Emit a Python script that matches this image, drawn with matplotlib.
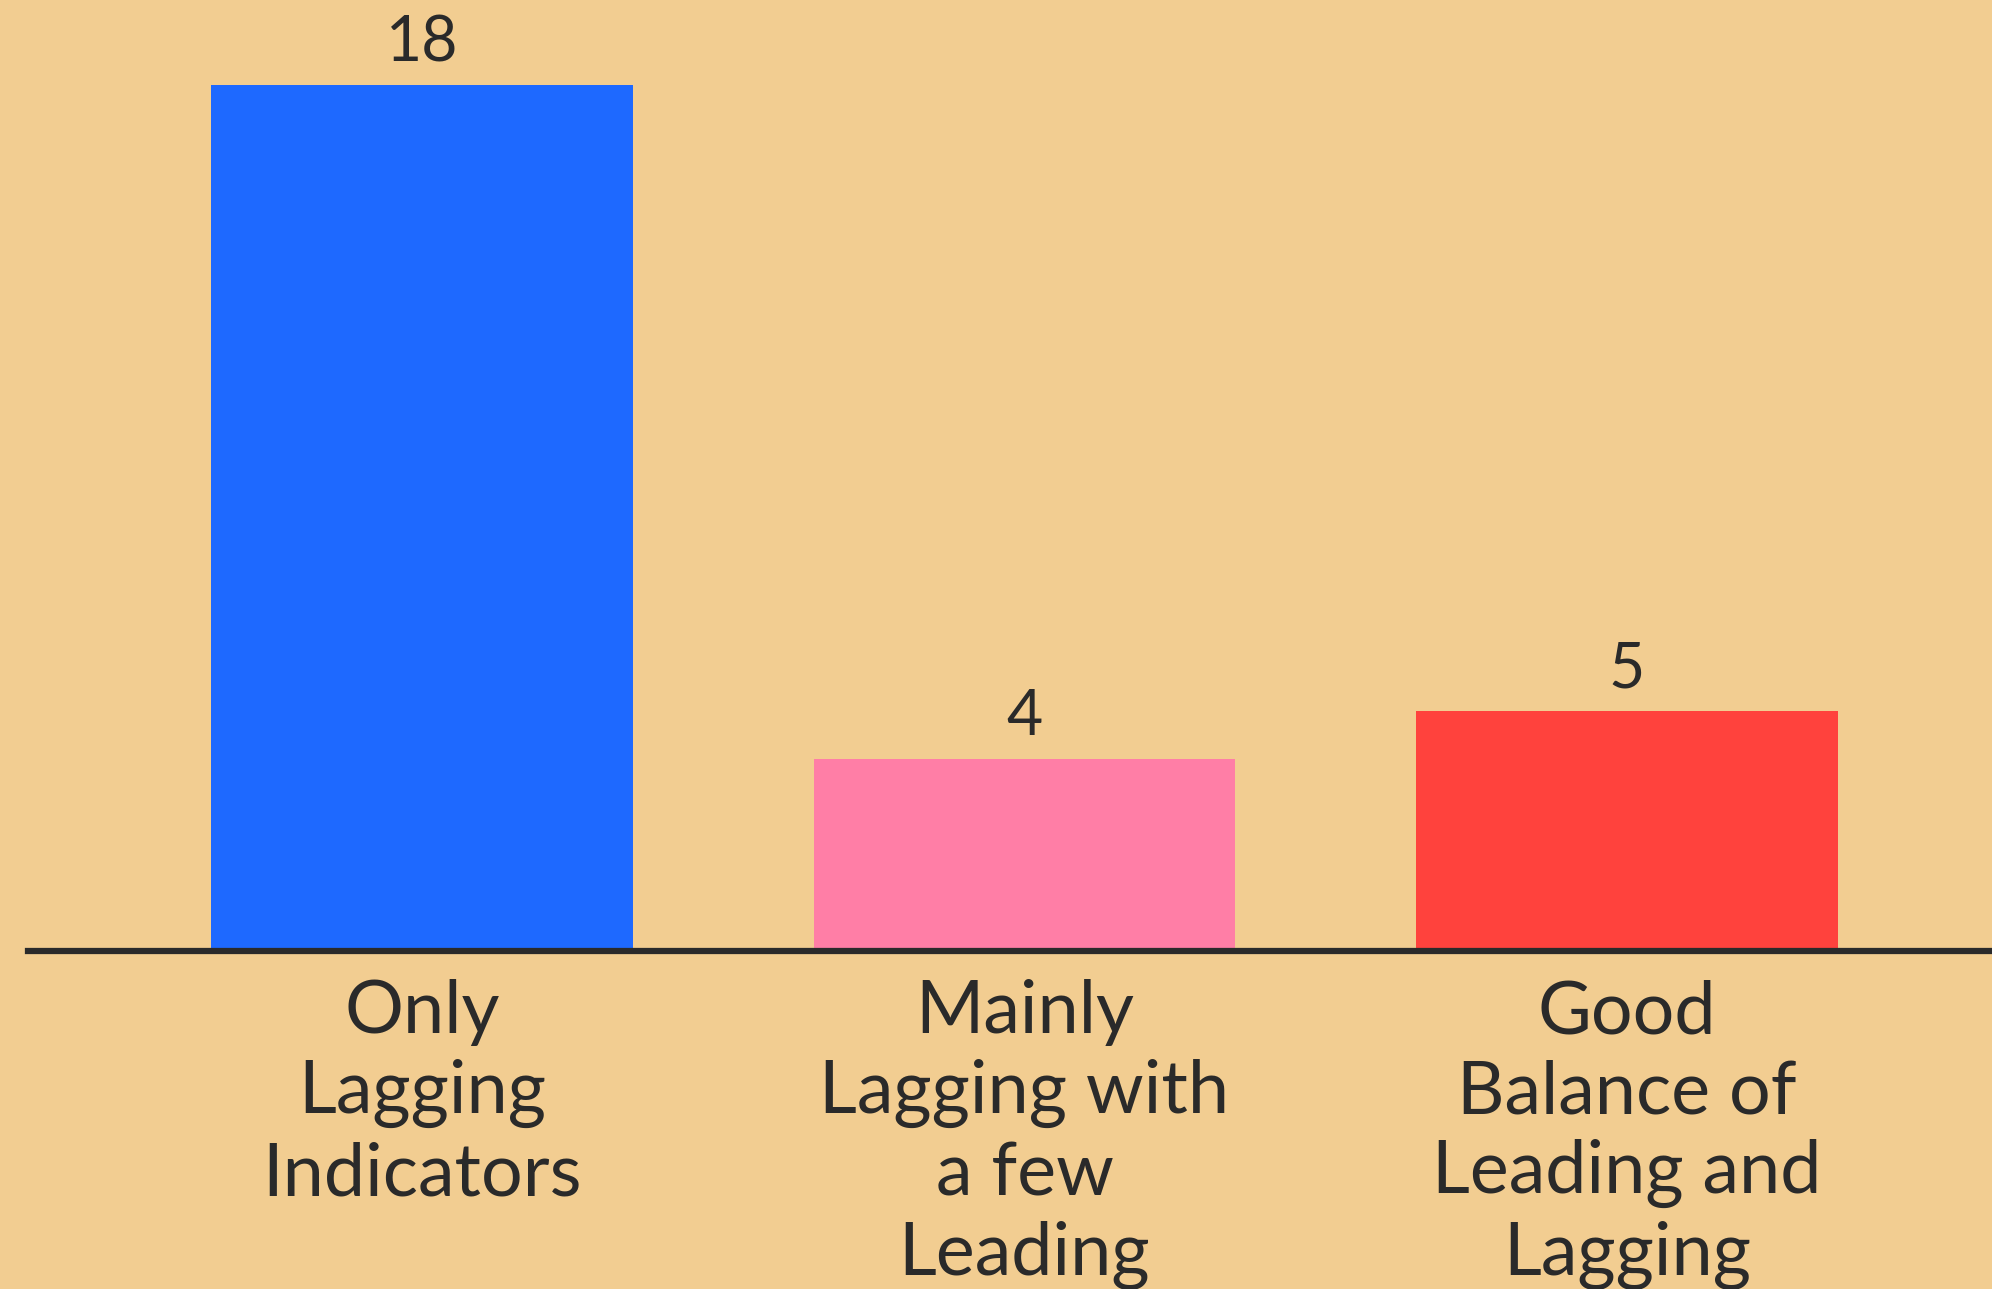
import matplotlib.pyplot as plt

# indicator mix counts
categories = ["Only\nLagging\nIndicators",
              "Mainly\nLagging with\na few\nLeading",
              "Good\nBalance of\nLeading and\nLagging"]
counts = [18, 4, 5]
colors = ["#1E69FF", "#FF7EA6", "#FF423D"]

bg = "#F2CD91"
ink = "#2A2A2A"

plt.rcParams['font.family'] = ['Lato', 'DejaVu Sans']

fig = plt.figure(figsize=(19.92, 12.89), dpi=100, facecolor=bg)
ax = fig.add_axes([0.0141, 0.262, 0.9859, 0.738])
ax.set_facecolor(bg)

x = range(len(counts))
bars = ax.bar(x, counts, width=0.70, color=colors, zorder=2)

for b, v in zip(bars, counts):
    ax.annotate(str(v), (b.get_x() + b.get_width() / 2, v),
                xytext=(0, 17), textcoords="offset points",
                ha="center", va="baseline", fontsize=45, color=ink)

ax.set_xlim(-0.654, 2.606)
ax.set_ylim(0, 19.77)
ax.set_xticks(list(x))
ax.set_xticklabels(categories, fontsize=53, color=ink, linespacing=1.24)
ax.tick_params(axis="x", length=0, pad=20)
ax.set_yticks([])

for s in ["top", "right", "left"]:
    ax.spines[s].set_visible(False)
ax.spines["bottom"].set_color(ink)
ax.spines["bottom"].set_linewidth(4.5)
ax.spines["bottom"].set_zorder(3)

fig.savefig("out.png", dpi=100, facecolor=bg)
